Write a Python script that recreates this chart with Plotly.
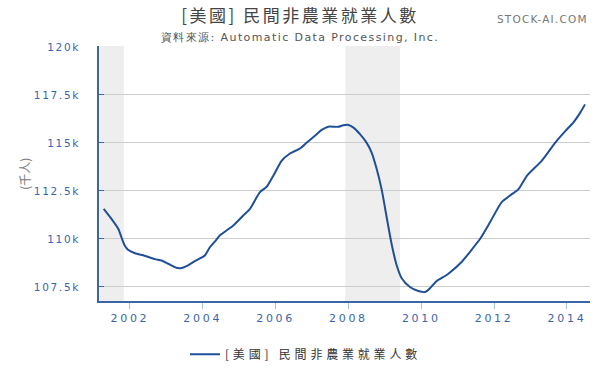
import plotly.graph_objects as go

dates = ["2001-04-13","2001-06-30","2001-09-06","2001-10-08","2001-11-10","2001-12-13",
         "2002-02-21","2002-05-28","2002-09-09","2002-11-14","2003-01-19","2003-04-11",
         "2003-06-02","2003-08-07","2003-10-15","2004-01-22","2004-03-13","2004-05-03",
         "2004-06-20","2004-11-03","2005-02-10","2005-04-19","2005-07-26","2005-10-04",
         "2005-12-09","2006-03-02","2006-05-25","2006-09-02","2006-11-10","2007-02-17",
         "2007-04-08","2007-06-13","2007-09-20","2007-11-10","2008-01-01","2008-02-21",
         "2008-04-26","2008-07-01","2008-08-21","2008-10-11","2008-12-02","2009-01-19",
         "2009-03-09","2009-04-29","2009-06-20","2009-09-09","2009-12-02","2010-02-10",
         "2010-03-27","2010-06-05","2010-08-28","2010-10-15","2011-02-14","2011-05-03",
         "2011-08-14","2011-11-21","2012-03-16","2012-06-09","2012-09-02","2012-11-25",
         "2013-04-22","2013-09-06","2013-12-17","2014-03-05","2014-05-14","2014-07-01"]
employment_k = [111.57,111.05,110.53,110.09,109.66,109.44,
                109.26,109.13,108.95,108.88,108.71,108.50,
                108.49,108.63,108.85,109.14,109.57,109.87,
                110.18,110.70,111.22,111.57,112.43,112.72,
                113.29,114.07,114.45,114.71,115.02,115.46,
                115.68,115.85,115.84,115.92,115.94,115.80,
                115.46,115.02,114.50,113.64,112.52,111.13,
                109.75,108.63,107.94,107.50,107.29,107.24,
                107.42,107.81,108.07,108.25,108.83,109.32,
                110.01,110.87,111.91,112.26,112.60,113.29,
                114.07,115.02,115.63,116.06,116.58,117.01]

recessions = [("2001-03-01", "2001-11-01"), ("2007-12-01", "2009-06-01")]
y_ticks = [107.5, 110, 112.5, 115, 117.5, 120]
y_tick_labels = ["107.5k", "110k", "112.5k", "115k", "117.5k", "120k"]
x_ticks = ["2002-01-01","2004-01-01","2006-01-01","2008-01-01","2010-01-01","2012-01-01","2014-01-01"]
x_tick_labels = ["2002","2004","2006","2008","2010","2012","2014"]

series_name = "[美國] 民間非農業就業人數"
title_text = "[美國] 民間非農業就業人數"
source_text = "資料來源: Automatic Data Processing, Inc."
watermark = "STOCK-AI.COM"
y_title = "(千人)"


def spaced(s, px):
    return f'<span style="letter-spacing:{px}px">{s}</span>'


fig = go.Figure()
fig.add_trace(go.Scatter(x=dates, y=employment_k, mode="lines", name=spaced(series_name, 3.8),
                         line=dict(color="#1f4f96", width=2, shape="spline", smoothing=0.6)))

for a, b in recessions:
    fig.add_shape(type="rect", xref="x", yref="paper", x0=a, x1=b, y0=0, y1=1,
                  fillcolor="#eeeeee", line_width=0, layer="below")

tick_font = dict(family="DejaVu Sans", size=11, color="#3a66a8")

fig.update_layout(
    width=600, height=371,
    margin=dict(l=99, r=10, t=46, b=70),
    paper_bgcolor="white", plot_bgcolor="white",
    showlegend=True,
    legend=dict(orientation="h", xref="container", yref="container",
                x=0.51, xanchor="center", y=0.045, yanchor="middle",
                font=dict(family="Noto Sans CJK TC", size=12, color="#333333")),
    title=dict(text=spaced(title_text, 2.5), x=0.5, xanchor="center", y=0.972, yanchor="top",
               font=dict(family="Noto Sans CJK TC", size=17, color="#444444")),
    xaxis=dict(type="date", range=["2001-02-25", "2014-08-20"],
               tickvals=x_ticks, ticktext=[spaced(t, 2.7) for t in x_tick_labels],
               showgrid=False, zeroline=False, automargin=False,
               showline=True, linecolor="#3a66a8", linewidth=1.5,
               ticks="outside", ticklen=6, tickcolor="#a9c0e0",
               tickfont=tick_font),
    yaxis=dict(range=[106.77, 120.05], tickvals=y_ticks,
               ticktext=[spaced(t, 1.7) for t in y_tick_labels],
               showgrid=True, gridcolor="#cccccc", gridwidth=1, zeroline=False,
               automargin=False,
               showline=True, linecolor="#3a66a8", linewidth=1.5,
               ticks="inside", ticklen=5, tickcolor="#3a66a8",
               ticklabelstandoff=15,
               tickfont=dict(family="DejaVu Sans", size=10.5, color="#3a66a8")),
    annotations=[
        dict(text=y_title, xref="paper", yref="paper", x=-0.152, y=0.5,
             xanchor="center", yanchor="middle", textangle=-90, showarrow=False,
             font=dict(family="Noto Sans CJK TC", size=12, color="#777777")),
        dict(text=spaced(source_text, 1.4), xref="paper", yref="paper",
             x=0.41, y=1.0, xanchor="center", yanchor="bottom", yshift=0, showarrow=False,
             font=dict(family="DejaVu Sans", size=11, color="#555555")),
        dict(text=spaced(watermark, 1.2), xref="paper", yref="paper", x=1.0, y=1.0,
             xanchor="right", yanchor="bottom", yshift=19, showarrow=False,
             font=dict(family="DejaVu Sans", size=10.5, color="#777777")),
    ],
)

fig.write_html("out.html", config={"displayModeBar": False},
               post_script="document.body.style.margin='0';")
